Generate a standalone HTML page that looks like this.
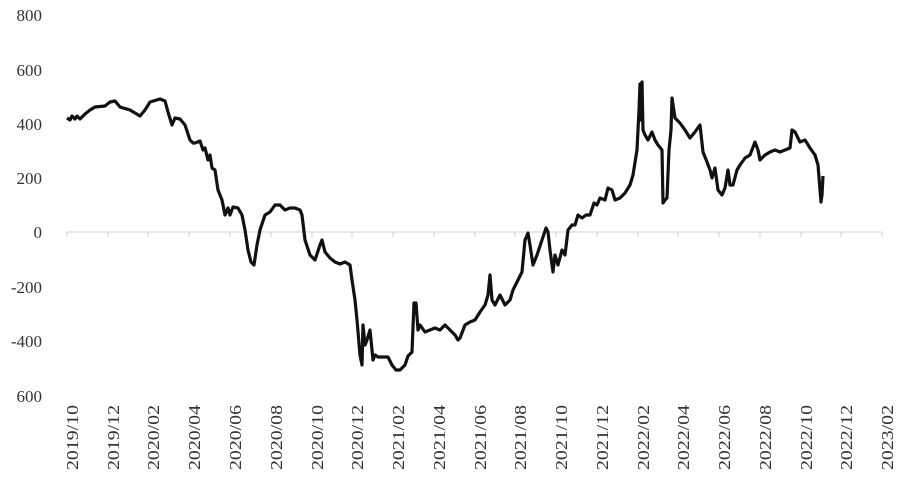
<!DOCTYPE html>
<html><head><meta charset="utf-8"><style>body{margin:0;background:#fff}</style></head><body>
<svg width="900" height="478" xmlns="http://www.w3.org/2000/svg" font-family="Liberation Serif, serif" font-size="17" fill="#333">
<g text-anchor="end">
<text x="42" y="21">800</text><text x="42" y="76">600</text><text x="42" y="130">400</text><text x="42" y="184">200</text><text x="42" y="238">0</text><text x="42" y="293">-200</text><text x="42" y="347">-400</text><text x="42" y="402">600</text>
</g>
<line x1="67" y1="232" x2="882" y2="232" stroke="#d0d0d0" stroke-width="1"/>
<g stroke="#d0d0d0">
<line x1="67" y1="232" x2="67" y2="237"/><line x1="108" y1="232" x2="108" y2="237"/><line x1="148" y1="232" x2="148" y2="237"/><line x1="189" y1="232" x2="189" y2="237"/><line x1="230" y1="232" x2="230" y2="237"/><line x1="271" y1="232" x2="271" y2="237"/><line x1="312" y1="232" x2="312" y2="237"/><line x1="352" y1="232" x2="352" y2="237"/><line x1="393" y1="232" x2="393" y2="237"/><line x1="434" y1="232" x2="434" y2="237"/><line x1="475" y1="232" x2="475" y2="237"/><line x1="515" y1="232" x2="515" y2="237"/><line x1="556" y1="232" x2="556" y2="237"/><line x1="597" y1="232" x2="597" y2="237"/><line x1="638" y1="232" x2="638" y2="237"/><line x1="678" y1="232" x2="678" y2="237"/><line x1="719" y1="232" x2="719" y2="237"/><line x1="760" y1="232" x2="760" y2="237"/><line x1="801" y1="232" x2="801" y2="237"/><line x1="841" y1="232" x2="841" y2="237"/><line x1="882" y1="232" x2="882" y2="237"/>
</g>
<g text-anchor="start">
<text transform="translate(78,470) rotate(-90)" textLength="65" lengthAdjust="spacingAndGlyphs">2019/10</text>
<text transform="translate(119,470) rotate(-90)" textLength="65" lengthAdjust="spacingAndGlyphs">2019/12</text>
<text transform="translate(159,470) rotate(-90)" textLength="65" lengthAdjust="spacingAndGlyphs">2020/02</text>
<text transform="translate(200,470) rotate(-90)" textLength="65" lengthAdjust="spacingAndGlyphs">2020/04</text>
<text transform="translate(241,470) rotate(-90)" textLength="65" lengthAdjust="spacingAndGlyphs">2020/06</text>
<text transform="translate(282,470) rotate(-90)" textLength="65" lengthAdjust="spacingAndGlyphs">2020/08</text>
<text transform="translate(323,470) rotate(-90)" textLength="65" lengthAdjust="spacingAndGlyphs">2020/10</text>
<text transform="translate(363,470) rotate(-90)" textLength="65" lengthAdjust="spacingAndGlyphs">2020/12</text>
<text transform="translate(404,470) rotate(-90)" textLength="65" lengthAdjust="spacingAndGlyphs">2021/02</text>
<text transform="translate(445,470) rotate(-90)" textLength="65" lengthAdjust="spacingAndGlyphs">2021/04</text>
<text transform="translate(486,470) rotate(-90)" textLength="65" lengthAdjust="spacingAndGlyphs">2021/06</text>
<text transform="translate(526,470) rotate(-90)" textLength="65" lengthAdjust="spacingAndGlyphs">2021/08</text>
<text transform="translate(567,470) rotate(-90)" textLength="65" lengthAdjust="spacingAndGlyphs">2021/10</text>
<text transform="translate(608,470) rotate(-90)" textLength="65" lengthAdjust="spacingAndGlyphs">2021/12</text>
<text transform="translate(649,470) rotate(-90)" textLength="65" lengthAdjust="spacingAndGlyphs">2022/02</text>
<text transform="translate(689,470) rotate(-90)" textLength="65" lengthAdjust="spacingAndGlyphs">2022/04</text>
<text transform="translate(730,470) rotate(-90)" textLength="65" lengthAdjust="spacingAndGlyphs">2022/06</text>
<text transform="translate(771,470) rotate(-90)" textLength="65" lengthAdjust="spacingAndGlyphs">2022/08</text>
<text transform="translate(812,470) rotate(-90)" textLength="65" lengthAdjust="spacingAndGlyphs">2022/10</text>
<text transform="translate(852,470) rotate(-90)" textLength="65" lengthAdjust="spacingAndGlyphs">2022/12</text>
<text transform="translate(893,470) rotate(-90)" textLength="65" lengthAdjust="spacingAndGlyphs">2023/02</text>
</g>
<polyline fill="none" stroke="#111" stroke-width="3.2" stroke-linejoin="round" points="67,118 70,120 72,116 75,119 77,116 80,119 85,114 90,110 95,107 105,106 110,102 115,101 120,107 130,110 140,116 145,110 150,102 160,99 165,101 168,112 172,125 175,118 180,119 185,125 190,140 193,143 195,143 200,141 203,150 205,148 208,160 210,155 212,168 215,170 218,190 222,200 225,215 228,208 230,215 233,207 238,208 242,215 245,230 248,250 251,262 254,265 257,245 260,230 265,215 270,212 275,205 280,205 285,210 290,208 295,208 300,210 302,215 305,240 310,255 315,260 320,245 322,240 325,252 330,258 335,262 340,264 345,262 350,265 352,280 355,300 357,320 360,355 362,365 363,325 365,345 367,340 370,330 373,360 375,355 378,357 383,357 388,357 392,365 396,370 400,370 405,365 408,356 412,352 414,303 416,303 418,330 420,325 425,332 430,330 435,328 440,330 445,325 450,330 455,335 458,340 460,338 465,325 470,322 475,320 480,312 485,305 488,295 490,275 492,300 495,305 500,295 505,305 510,300 513,290 518,280 522,272 525,240 528,233 530,245 533,265 537,255 542,240 546,228 548,232 550,250 553,272 555,255 558,265 562,250 565,255 568,230 572,225 575,225 578,215 582,218 586,215 590,215 594,203 597,205 600,198 605,200 608,188 612,190 615,200 620,198 625,193 630,185 633,175 637,150 639,110 640,84 641,120 642,82 643,130 645,135 648,140 652,132 655,140 658,145 662,150 663,203 665,200 667,198 669,150 671,130 672,98 675,118 680,123 685,130 690,138 695,132 700,125 703,152 707,162 710,170 712,178 715,168 718,190 722,195 725,188 728,170 730,185 733,185 737,170 740,165 745,158 750,155 755,142 758,150 760,160 765,155 770,152 775,150 780,152 785,150 790,148 792,130 795,132 800,142 805,140 810,148 815,155 818,165 820,190 821,202 822,195 823,176"/>
</svg>
</body></html>
